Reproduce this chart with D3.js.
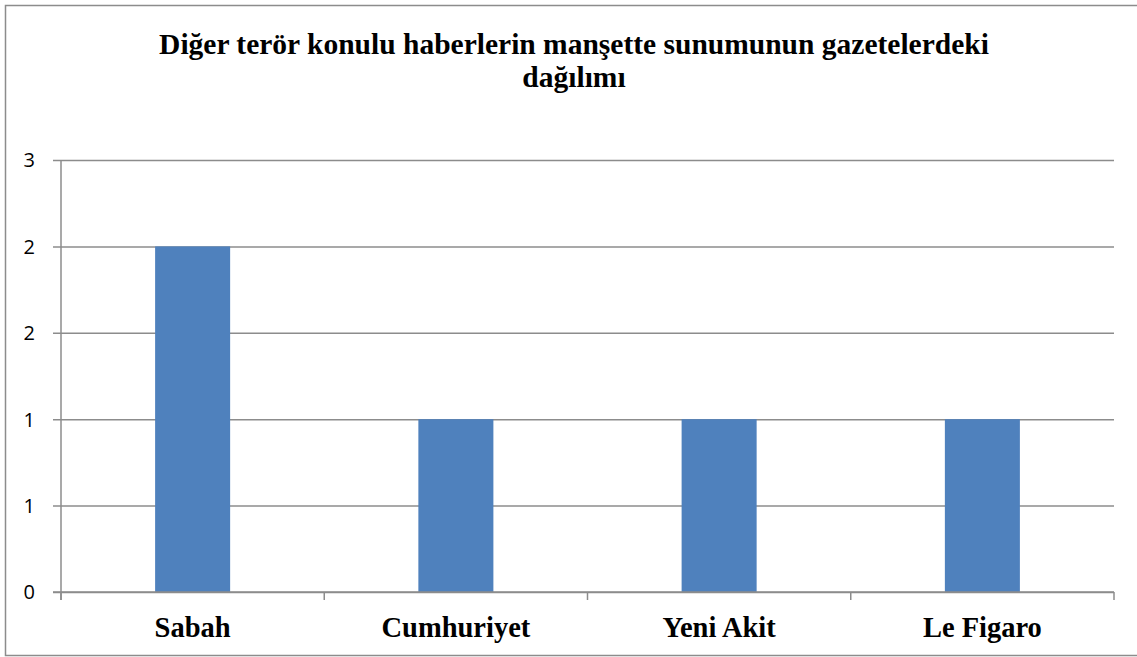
<!DOCTYPE html>
<html>
<head>
<meta charset="utf-8">
<script src="https://cdn.jsdelivr.net/npm/d3@7"></script>
<style>
  body { margin: 0; background: #fff; }
  svg { display: block; }
</style>
</head>
<body>
<svg id="chart" width="1137" height="657"></svg>
<script>
// chart data
var categories = ["Sabah", "Cumhuriyet", "Yeni Akit", "Le Figaro"];
var values = [2, 1, 1, 1];
var tickValues = [0, 0.5, 1, 1.5, 2, 2.5];
var tickLabels = ["0", "1", "1", "2", "2", "3"];
var titleLines = ["Diğer terör konulu haberlerin manşette sunumunun gazetelerdeki", "dağılımı"];

var svg = d3.select("#chart");
var margin = {left: 61, right: 1114, top: 160, bottom: 592};

// outer frame (left, top, bottom only - right edge runs off the picture)
svg.append("path")
	.attr("d", "M1137,5.5 H5.5 V655.5 H1137")
	.attr("fill", "none")
	.attr("stroke", "#8c8c8c")
	.attr("stroke-width", 1.5);

var x = d3.scaleBand()
	.domain(categories)
	.range([margin.left, margin.right])
	.paddingInner(0.715)
	.paddingOuter(0.3575);

var xBounds = d3.scaleLinear().domain([0, categories.length]).range([margin.left, margin.right]);

var y = d3.scaleLinear()
	.domain([0, 2.5])
	.range([margin.bottom, margin.top]);

// gridlines + y ticks
var yAxis = d3.axisLeft(y)
	.tickValues(tickValues)
	.tickSize(-(margin.right - margin.left))
	.tickPadding(0)
	.tickFormat(function(d, i){ return tickLabels[i]; });

var gy = svg.append("g")
	.attr("transform", "translate(" + margin.left + ",0)")
	.call(yAxis);
gy.select(".domain").remove();
gy.selectAll(".tick line")
	.attr("x1", -8)
	.attr("stroke", "#8c8c8c")
	.attr("stroke-width", 1.5);
gy.selectAll(".tick text")
	.attr("x", -26)
	.attr("dy", "0.34em")
	.attr("font-family", "'Open Sans', 'DejaVu Sans', sans-serif")
	.attr("font-size", 20)
	.attr("fill", "#000");

// bars
svg.selectAll("rect.bar")
	.data(values)
	.enter().append("rect")
	.attr("class", "bar")
	.attr("x", function(d, i){ return x(categories[i]); })
	.attr("width", x.bandwidth())
	.attr("y", function(d){ return y(d); })
	.attr("height", function(d){ return y(0) - y(d); })
	.attr("fill", "#4f81bd");

// y axis line
svg.append("line")
	.attr("x1", margin.left).attr("x2", margin.left)
	.attr("y1", margin.top).attr("y2", margin.bottom + 8)
	.attr("stroke", "#8c8c8c")
	.attr("stroke-width", 1.5);

// x axis line + category boundary ticks
svg.append("line")
	.attr("x1", margin.left - 8).attr("x2", margin.right)
	.attr("y1", margin.bottom).attr("y2", margin.bottom)
	.attr("stroke", "#8c8c8c")
	.attr("stroke-width", 1.5);

svg.selectAll("line.xtick")
	.data(d3.range(categories.length + 1))
	.enter().append("line")
	.attr("class", "xtick")
	.attr("x1", function(d){ return xBounds(d); })
	.attr("x2", function(d){ return xBounds(d); })
	.attr("y1", margin.bottom)
	.attr("y2", margin.bottom + 8)
	.attr("stroke", "#8c8c8c")
	.attr("stroke-width", 1.5);

// category labels
svg.selectAll("text.cat")
	.data(categories)
	.enter().append("text")
	.attr("class", "cat")
	.attr("x", function(d){ return x(d) + x.bandwidth() / 2; })
	.attr("y", 637)
	.attr("text-anchor", "middle")
	.attr("font-family", "'Liberation Serif', 'Times New Roman', serif")
	.attr("font-weight", "bold")
	.attr("font-size", 28.5)
	.text(function(d){ return d; });

// title
svg.selectAll("text.title")
	.data(titleLines)
	.enter().append("text")
	.attr("class", "title")
	.attr("x", 574)
	.attr("y", function(d, i){ return 54 + i * 33; })
	.attr("text-anchor", "middle")
	.attr("font-family", "'Liberation Serif', 'Times New Roman', serif")
	.attr("font-weight", "bold")
	.attr("font-size", 29.5)
	.text(function(d){ return d; });
</script>
</body>
</html>
